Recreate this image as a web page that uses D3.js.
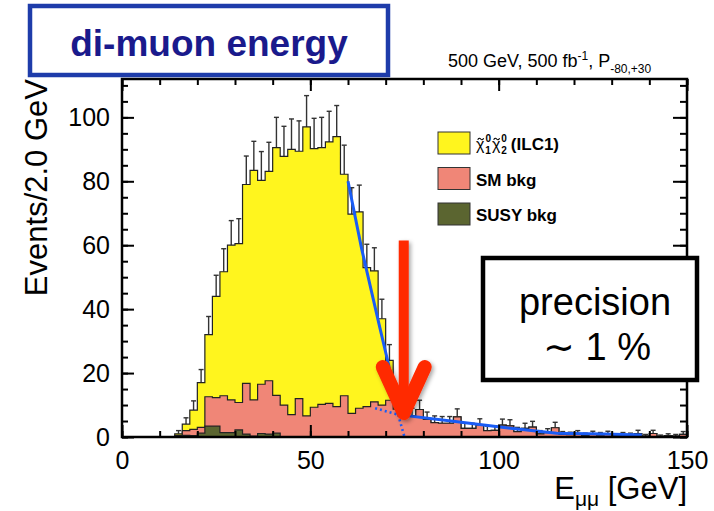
<!DOCTYPE html>
<html>
<head>
<meta charset="utf-8">
<script src="https://cdn.jsdelivr.net/npm/d3@7"></script>
<style>
  body { margin: 0; background: #fff; }
  svg { display: block; }
  text { font-family: "Liberation Sans", Arial, sans-serif; }
</style>
</head>
<body>
<div id="chart"></div>
<script>

// loading data (2 GeV bins from 0 to 150 GeV)
var binWidth = 2;
var binLow = d3.range(0, 150, binWidth);

var signal = [0,0,0,0,0,0,0,0.5,2,6,
	14,19.4,31.7,38.8,48.4,49.7,62.2,71.8,63.8,65.5,
	77.5,77.8,83,77.4,90.4,80.9,80.3,81.8,84.5,69.3,
	62.3,61.4,43.5,41,27,12.5,1.3,0,0,0,
	0,0,0,0,0,0,0,0,0,0,
	0,0,0,0,0,0,0,0,0,0,
	0,0,0,0,0,0,0,0,0,0,
	0,0,0,0,0];

var smBkg = [0,0,0,0,0,0,0,0.3,1.5,2,
	1.8,9.2,8.9,11.5,10.2,8.6,15.9,11.3,15.4,16.7,
	11.8,10,7,12,6.6,9.3,10.2,10.5,9.5,12.9,
	7.4,9,9.5,11,10,11.5,8.7,6.3,6.5,8.6,
	5.5,4.5,4.3,4.3,6.3,2.7,2.7,3.8,2,2.1,
	3.7,3.5,1.7,2.7,3.1,1,1.4,2.9,0.8,0.7,
	1,0.5,0.9,0.6,0.9,0.4,0.6,0.5,1.1,0.3,
	1.1,0.2,0.4,0.3,0.8];

var susyBkg = [0,0,0,0,0,0,0,0.2,0.5,0.4,
	1.2,3.4,3.4,1.4,1.4,2.2,0.9,0.3,1.1,0.9,
	1.2,0,0,0,0,0,0,0,0,0,
	0,0,0,0,0,0,0,0,0,0,
	0,0,0,0,0,0,0,0,0,0,
	0,0,0,0,0,0,0,0,0,0,
	0,0,0,0,0,0,0,0,0,0,
	0,0,0,0,0];

// upper error on the stacked total
var errUp = [0,0,0,0,0,0,0,1,2,2.9,
	4.1,5.7,6.6,7.2,7.7,7.8,8.9,9.1,9,9.1,
	9.5,9.4,9.5,9.5,9.8,9.5,9.5,9.6,9.7,9.1,
	8.3,8.4,7.3,7.2,6.1,4.9,3.2,2.5,2.5,2.9,
	2.3,2.1,2.1,2.1,2.5,1.6,1.6,1.9,1.4,1.4,
	1.9,1.9,1.3,1.6,1.8,1,1.2,1.7,0.9,0.8,
	1,0.7,0.9,0.8,0.9,0.6,0.8,0.7,1,0.5,
	1,0.4,0.6,0.5,0.9];

// fitted edge (solid) and its extensions (dotted)
var fitSteep = [[60,80],[63.6,59],[68.5,34],[70.7,23],[73.3,7]];
var fitSteepExt = [[73.3,7],[75,0]];
var fitTail = [[73.3,7],[89,4.8],[102,2.9],[115.4,1.2],[128,0.9],[138,0.6]];
var fitTailExt = [[67.2,9],[73.3,7]];

// arrow marking the end point
var arrowE = 74.8, arrowTop = 61.5, arrowTip = 7.5;

var xTicks = [0, 50, 100, 150];
var yTicks = [0, 20, 40, 60, 80, 100];

var legendItems = ["sig", "SM bkg", "SUSY bkg"];

// setting the dimensions of the chart
var W = 714, H = 511;
var frame = { left: 122, right: 687, top: 79, bottom: 437 };

var svg = d3.select("#chart")
	.append("svg")
	.attr("width", W)
	.attr("height", H);

var x = d3.scaleLinear().domain([0, 150]).range([frame.left, frame.right]);
var y = d3.scaleLinear().domain([0, 112]).range([frame.bottom, frame.top]);

var defs = svg.append("defs");
defs.append("clipPath").attr("id", "plotclip")
	.append("rect")
	.attr("x", frame.left).attr("y", frame.top)
	.attr("width", frame.right - frame.left)
	.attr("height", frame.bottom - frame.top);

// stacking SUSY, SM, signal
var rows = binLow.map(function(b, i) {
	return { susy: susyBkg[i], sm: smBkg[i], sig: signal[i] };
});
var stacked = d3.stack().keys(["susy", "sm", "sig"])(rows);

function stepPoints(layer) {
	var pts = [];
	layer.forEach(function(d, i) {
		pts.push([binLow[i], d[1]]);
		pts.push([binLow[i] + binWidth, d[1]]);
	});
	return pts;
}

var area = d3.area()
	.x(function(d) { return x(d[0]); })
	.y0(y(0))
	.y1(function(d) { return y(d[1]); });
var line = d3.line()
	.x(function(d) { return x(d[0]); })
	.y(function(d) { return y(d[1]); });

var colors = { sig: "#fff51e", sm: "#f08677", susy: "#5b6530" };

var plot = svg.append("g").attr("clip-path", "url(#plotclip)");

// error bars (upper half only, drawn over total)
var errG = plot.append("g");
binLow.forEach(function(b, i) {
	var tot = stacked[2][i][1];
	if (tot <= 0) return;
	var cx = x(b + binWidth / 2);
	errG.append("line")
		.attr("x1", cx).attr("x2", cx)
		.attr("y1", y(tot)).attr("y2", y(tot + errUp[i]))
		.attr("stroke", "#333").attr("stroke-width", 1.4);
	errG.append("line")
		.attr("x1", cx - 2.5).attr("x2", cx + 2.5)
		.attr("y1", y(tot + errUp[i])).attr("y2", y(tot + errUp[i]))
		.attr("stroke", "#333").attr("stroke-width", 1.4);
});

// histograms: total first, then SM+SUSY, then SUSY
[2, 1, 0].forEach(function(k) {
	var key = stacked[k].key;
	var pts = stepPoints(stacked[k]);
	plot.append("path")
		.attr("d", area(pts))
		.attr("fill", colors[key]);
	plot.append("path")
		.attr("d", line(pts))
		.attr("fill", "none")
		.attr("stroke", "#222")
		.attr("stroke-width", 1.2);
});

// fit lines
var fitColor = "#1a5cf5";
plot.append("path").attr("d", line(fitSteep))
	.attr("fill", "none").attr("stroke", fitColor).attr("stroke-width", 3);
plot.append("path").attr("d", line(fitTail))
	.attr("fill", "none").attr("stroke", fitColor).attr("stroke-width", 3);
[fitSteepExt, fitTailExt].forEach(function(seg) {
	plot.append("path").attr("d", line(seg))
		.attr("fill", "none").attr("stroke", fitColor)
		.attr("stroke-width", 2.6).attr("stroke-dasharray", "2,3");
});

// axes with ticks pointing inward
function styleAxis(g) {
	g.select(".domain").remove();
	g.selectAll(".tick line").attr("stroke", "#000").attr("stroke-width", 2);
	g.selectAll(".tick text")
		.attr("fill", "#000")
		.attr("font-size", "25px")
		.attr("font-family", "Liberation Sans, Arial, sans-serif");
}

var xMinor = d3.range(0, 151, 10);
var yMinor = d3.range(0, 112, 5);

svg.append("g").attr("transform", "translate(0," + frame.bottom + ")")
	.call(d3.axisBottom(x).tickValues(xMinor).tickSizeInner(-6).tickSizeOuter(0).tickFormat(""))
	.call(styleAxis);
svg.append("g").attr("transform", "translate(0," + frame.bottom + ")")
	.call(d3.axisBottom(x).tickValues(xTicks).tickSizeInner(-12).tickSizeOuter(0).tickPadding(14))
	.call(styleAxis);
svg.append("g").attr("transform", "translate(0," + frame.top + ")")
	.call(d3.axisTop(x).tickValues(xMinor).tickSizeInner(-6).tickSizeOuter(0).tickFormat(""))
	.call(styleAxis);
svg.append("g").attr("transform", "translate(0," + frame.top + ")")
	.call(d3.axisTop(x).tickValues(xTicks).tickSizeInner(-12).tickSizeOuter(0).tickFormat(""))
	.call(styleAxis);

svg.append("g").attr("transform", "translate(" + frame.left + ",0)")
	.call(d3.axisLeft(y).tickValues(yMinor).tickSizeInner(-6).tickSizeOuter(0).tickFormat(""))
	.call(styleAxis);
svg.append("g").attr("transform", "translate(" + frame.left + ",0)")
	.call(d3.axisLeft(y).tickValues(yTicks).tickSizeInner(-12).tickSizeOuter(0).tickPadding(12))
	.call(styleAxis);
svg.append("g").attr("transform", "translate(" + frame.right + ",0)")
	.call(d3.axisRight(y).tickValues(yMinor).tickSizeInner(-7).tickSizeOuter(0).tickFormat(""))
	.call(styleAxis);
svg.append("g").attr("transform", "translate(" + frame.right + ",0)")
	.call(d3.axisRight(y).tickValues(yTicks).tickSizeInner(-14).tickSizeOuter(0).tickFormat(""))
	.call(styleAxis);

// frame
svg.append("rect")
	.attr("x", frame.left).attr("y", frame.top)
	.attr("width", frame.right - frame.left)
	.attr("height", frame.bottom - frame.top)
	.attr("fill", "none").attr("stroke", "#000").attr("stroke-width", 2.5);

// axis titles
svg.append("text")
	.attr("transform", "translate(47," + frame.top + ") rotate(-90)")
	.attr("text-anchor", "end")
	.attr("font-size", "31px")
	.text("Events/2.0 GeV");

var xt = svg.append("text")
	.attr("x", frame.right).attr("y", 499)
	.attr("text-anchor", "end")
	.attr("font-size", "31px");
xt.append("tspan").text("E");
xt.append("tspan").attr("font-size", "21px").attr("dy", 7).text("\u03bc\u03bc");
xt.append("tspan").attr("dy", -7).text(" [GeV]");

// run conditions
var rc = svg.append("text")
	.attr("x", 448).attr("y", 67)
	.attr("font-size", "18px");
rc.append("tspan").text("500 GeV, 500 fb");
rc.append("tspan").attr("font-size", "12px").attr("dy", -7).text("-1");
rc.append("tspan").attr("dy", 7).text(", P");
rc.append("tspan").attr("font-size", "12px").attr("dy", 6).text("-80,+30");

// legend
var legX = 438, legY0 = 132, legStep = 35.5;
var legColors = [colors.sig, colors.sm, colors.susy];
legendItems.forEach(function(name, i) {
	var yy = legY0 + i * legStep;
	svg.append("rect")
		.attr("x", legX).attr("y", yy)
		.attr("width", 32).attr("height", 22)
		.attr("fill", legColors[i])
		.attr("stroke", "#333").attr("stroke-width", 1);
	if (i > 0) {
		svg.append("text")
			.attr("x", legX + 38).attr("y", yy + 18)
			.attr("font-size", "17px").attr("font-weight", "bold")
			.text(name);
	}
});
// neutralino pair label: chi with super- and subscripts, tilde drawn as accent
var chi = svg.append("text")
	.attr("x", legX + 38).attr("y", legY0 + 18)
	.attr("font-size", "16px");
["1", "2"].forEach(function(s, j) {
	chi.append("tspan").attr("font-size", "16px")
		.attr("dx", j === 0 ? 0 : 1).attr("dy", j === 0 ? 0 : -4)
		.text("\u03c7");
	chi.append("tspan").attr("font-size", "10px").attr("font-weight", "bold")
		.attr("dx", 1).attr("dy", -8).text("0");
	chi.append("tspan").attr("font-size", "10px").attr("font-weight", "bold")
		.attr("dx", -5.6).attr("dy", 12).text(s);
});
chi.append("tspan").attr("font-size", "17px").attr("font-weight", "bold")
	.attr("dx", 4).attr("dy", -4).text("(ILC1)");

[0, 3].forEach(function(ci) {
	var ext = chi.node().getExtentOfChar(ci);
	var cx = ext.x + ext.width / 2 + 0.5, cy = ext.y + 3;
	svg.append("path")
		.attr("d", "M" + (cx - 3) + "," + (cy + 0.8) +
			"q1.5,-2.6 3,-0.8 t3,-0.8")
		.attr("fill", "none").attr("stroke", "#000").attr("stroke-width", 1.1);
});

// red arrow
var f = defs.append("filter").attr("id", "shadow")
	.attr("x", "-50%").attr("y", "-20%").attr("width", "200%").attr("height", "140%");
f.append("feDropShadow").attr("dx", 2).attr("dy", 2).attr("stdDeviation", 2)
	.attr("flood-color", "#000").attr("flood-opacity", 0.35);

var ax = x(arrowE);
var arrow = svg.append("g").attr("filter", "url(#shadow)");
arrow.append("line")
	.attr("x1", ax).attr("x2", ax)
	.attr("y1", y(arrowTop)).attr("y2", y(arrowTip) - 8)
	.attr("stroke", "#ff2a00").attr("stroke-width", 10);
arrow.append("path")
	.attr("d", "M" + (ax - 21) + "," + (y(arrowTip) - 46) +
		"L" + ax + "," + y(arrowTip) +
		"L" + (ax + 21) + "," + (y(arrowTip) - 46))
	.attr("fill", "none")
	.attr("stroke", "#ff2a00").attr("stroke-width", 14)
	.attr("stroke-linecap", "round").attr("stroke-linejoin", "round");

// title box
svg.append("rect")
	.attr("x", 30).attr("y", 6)
	.attr("width", 358).attr("height", 69)
	.attr("fill", "#fff")
	.attr("stroke", "#1e3caa").attr("stroke-width", 4.5);
svg.append("text")
	.attr("x", 209).attr("y", 56)
	.attr("text-anchor", "middle")
	.attr("font-family", "Open Sans, sans-serif")
	.attr("font-weight", 700)
	.attr("font-size", "37px")
	.attr("fill", "#1a1a8c")
	.text("di-muon energy");

// precision box
svg.append("rect")
	.attr("x", 483).attr("y", 258)
	.attr("width", 214).attr("height", 122)
	.attr("fill", "#fff")
	.attr("stroke", "#000").attr("stroke-width", 4.5);
svg.append("text")
	.attr("x", 595).attr("y", 315)
	.attr("text-anchor", "middle")
	.attr("font-family", "Open Sans, sans-serif")
	.attr("font-size", "38px")
	.text("precision");
svg.append("text")
	.attr("x", 597).attr("y", 360)
	.attr("text-anchor", "middle")
	.attr("font-family", "Open Sans, sans-serif")
	.attr("font-size", "38px")
	.text("\u223c 1 %");

</script>
</body>
</html>
